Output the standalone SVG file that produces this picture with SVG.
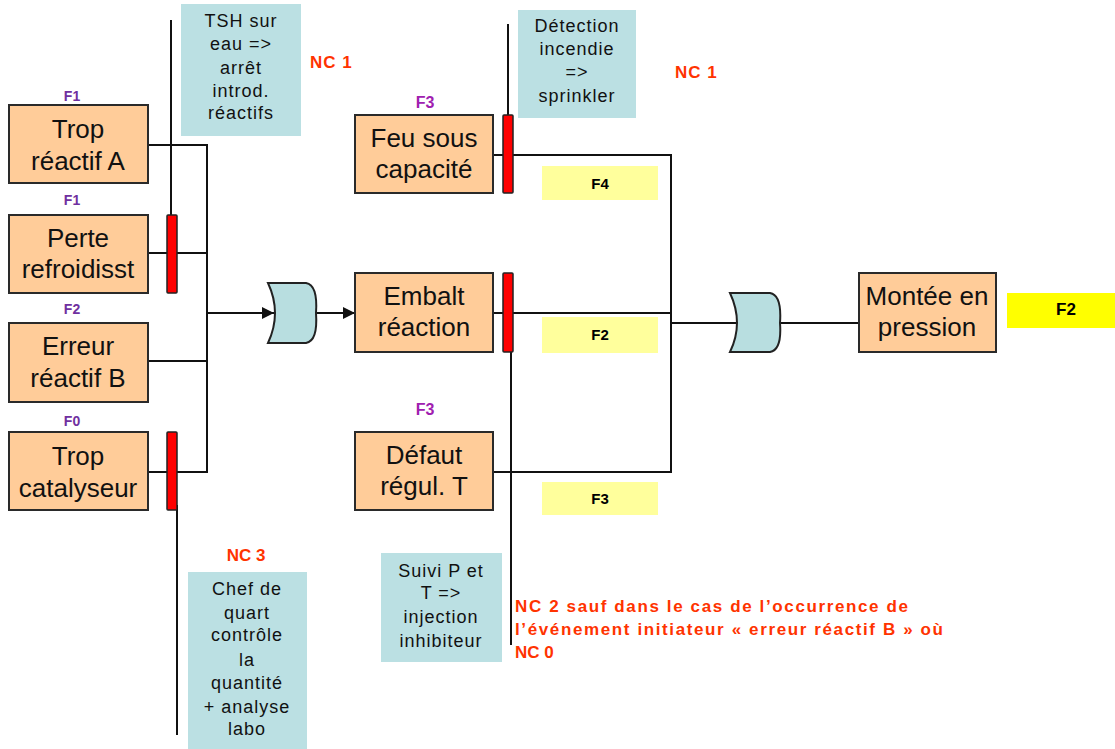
<svg xmlns="http://www.w3.org/2000/svg" width="1115" height="749" viewBox="0 0 1115 749">
<style>
text{font-family:"Liberation Sans",Arial,sans-serif}
.box{fill:#FFCC99;stroke:#2a2a2a;stroke-width:2}
.bt{font-size:26px;fill:#111;text-anchor:middle}
.note{fill:#BBE0E3}
.nt{font-size:18px;fill:#111;text-anchor:middle;letter-spacing:1px}
.bar{fill:#FF0000;stroke:#222;stroke-width:1.5}
.gate{fill:#B8DEE0;stroke:#222;stroke-width:2}
.ln{stroke:#111;stroke-width:2;fill:none}
.nc{font-weight:bold;fill:#FF3300;font-size:17px}
.fl{font-weight:bold;fill:#7030A0;font-size:14px;text-anchor:middle}
.f3{font-weight:bold;fill:#A020B0;font-size:16px;text-anchor:middle}
.pale{fill:#FFFF9C}
.pt{font-weight:bold;font-size:15px;fill:#000;text-anchor:middle}
</style>
<defs>
<marker id="arr" viewBox="0 0 10 10" refX="10" refY="5" markerWidth="12" markerHeight="12" markerUnits="userSpaceOnUse" orient="auto">
<path d="M0,0 L10,5 L0,10 Z" fill="#111"/>
</marker>
</defs>

<g id="connectors">
<path class="ln" d="M148,145 H207 V472 H148"/>
<path class="ln" d="M148,253 H207"/>
<path class="ln" d="M148,361 H207"/>
<path class="ln" d="M207,313 H274" marker-end="url(#arr)"/>
<path class="ln" d="M316,313 H355" marker-end="url(#arr)"/>
<path class="ln" d="M171,20 V222"/>
<path class="ln" d="M177,505 V735"/>
<path class="ln" d="M493,155 H671 V472 H493"/>
<path class="ln" d="M493,313 H671"/>
<path class="ln" d="M671,323 H737"/>
<path class="ln" d="M780,323 H859"/>
<path class="ln" d="M508,24 V118"/>
<path class="ln" d="M511,345 V645"/>
</g>

<g id="note-tsh">
<rect class="note" x="181" y="4" width="120" height="132"/>
<text class="nt" x="241" y="27">TSH sur</text>
<text class="nt" x="241" y="50">eau =&gt;</text>
<text class="nt" x="241" y="74">arrêt</text>
<text class="nt" x="241" y="97">introd.</text>
<text class="nt" x="241" y="119">réactifs</text>
</g>
<text id="nc1-a" class="nc" x="310" y="68" letter-spacing="1">NC 1</text>

<g id="trop-reactif-a">
<text class="fl" x="72" y="101">F1</text>
<rect class="box" x="9" y="105" width="139" height="78"/>
<text class="bt" x="78" y="138">Trop</text>
<text class="bt" x="78" y="170">réactif A</text>
</g>
<g id="perte-refroidisst">
<text class="fl" x="72" y="205">F1</text>
<rect class="box" x="9" y="215" width="139" height="78"/>
<text class="bt" x="78" y="247">Perte</text>
<text class="bt" x="78" y="278">refroidisst</text>
</g>
<g id="erreur-reactif-b">
<text class="fl" x="72" y="314">F2</text>
<rect class="box" x="9" y="323" width="139" height="79"/>
<text class="bt" x="78" y="355">Erreur</text>
<text class="bt" x="78" y="387">réactif B</text>
</g>
<g id="trop-catalyseur">
<text class="fl" x="72" y="426">F0</text>
<rect class="box" x="9" y="432" width="139" height="78"/>
<text class="bt" x="78" y="465">Trop</text>
<text class="bt" x="78" y="497">catalyseur</text>
</g>

<g id="barrier-1"><rect class="bar" x="167" y="215" width="10" height="78" rx="1"/></g>
<g id="barrier-2"><rect class="bar" x="167" y="432" width="10" height="78" rx="1"/></g>

<g id="gate-1"><path class="gate" d="M268,283 L306,283 Q318,285 316,313 Q318,341 306,343 L268,343 Q282,313 268,283 Z"/></g>

<g id="feu-sous-capacite">
<text class="f3" x="425" y="108">F3</text>
<rect class="box" x="355" y="115" width="138" height="78"/>
<text class="bt" x="424" y="147">Feu sous</text>
<text class="bt" x="424" y="178">capacité</text>
</g>
<g id="embalt-reaction">
<rect class="box" x="355" y="273" width="138" height="79"/>
<text class="bt" x="424" y="305">Embalt</text>
<text class="bt" x="424" y="336">réaction</text>
</g>
<g id="defaut-regul">
<text class="f3" x="425" y="415">F3</text>
<rect class="box" x="355" y="432" width="138" height="78"/>
<text class="bt" x="424" y="464">Défaut</text>
<text class="bt" x="424" y="495">régul. T</text>
</g>

<g id="barrier-3"><rect class="bar" x="503" y="115" width="10" height="78" rx="1"/></g>
<g id="barrier-4"><rect class="bar" x="503" y="273" width="10" height="79" rx="1"/></g>

<g id="note-detection">
<rect class="note" x="518" y="10" width="118" height="108"/>
<text class="nt" x="577" y="32">Détection</text>
<text class="nt" x="577" y="55">incendie</text>
<text class="nt" x="577" y="78">=&gt;</text>
<text class="nt" x="577" y="102">sprinkler</text>
</g>
<text id="nc1-b" class="nc" x="675" y="78" letter-spacing="1">NC 1</text>

<g id="label-f4"><rect class="pale" x="542" y="166" width="116" height="34"/><text class="pt" x="600" y="189">F4</text></g>
<g id="label-f2"><rect class="pale" x="542" y="317" width="116" height="36"/><text class="pt" x="600" y="340">F2</text></g>
<g id="label-f3"><rect class="pale" x="542" y="482" width="116" height="33"/><text class="pt" x="600" y="504">F3</text></g>

<g id="gate-2"><path class="gate" d="M730,293 L770,293 Q782,295 780,323 Q782,350 770,352 L730,352 Q744,323 730,293 Z"/></g>

<g id="montee-en-pression">
<rect class="box" x="859" y="273" width="137" height="79"/>
<text class="bt" x="927" y="305">Montée en</text>
<text class="bt" x="927" y="336">pression</text>
</g>
<g id="label-f2-top"><rect x="1007" y="293" width="108" height="35" fill="#FFFF00"/><text x="1066" y="315" font-weight="bold" font-size="17" text-anchor="middle" fill="#000">F2</text></g>

<text id="nc3" class="nc" x="246" y="561" text-anchor="middle">NC 3</text>
<g id="note-chef">
<rect class="note" x="188" y="572" width="119" height="177"/>
<text class="nt" x="247" y="595">Chef de</text>
<text class="nt" x="247" y="619">quart</text>
<text class="nt" x="247" y="641">contrôle</text>
<text class="nt" x="247" y="666">la</text>
<text class="nt" x="247" y="689">quantité</text>
<text class="nt" x="247" y="713">+ analyse</text>
<text class="nt" x="247" y="735">labo</text>
</g>

<g id="note-suivi">
<rect class="note" x="381" y="553" width="121" height="109"/>
<text class="nt" x="441" y="577">Suivi P et</text>
<text class="nt" x="441" y="599">T =&gt;</text>
<text class="nt" x="441" y="623">injection</text>
<text class="nt" x="441" y="647">inhibiteur</text>
</g>

<g id="nc2-text">
<text class="nc" x="515" y="612" textLength="393" lengthAdjust="spacing">NC 2 sauf dans le cas de l’occurrence de</text>
<text class="nc" x="515" y="635" textLength="428" lengthAdjust="spacing">l’événement initiateur « erreur réactif B » où</text>
<text class="nc" x="515" y="658">NC 0</text>
</g>
</svg>
